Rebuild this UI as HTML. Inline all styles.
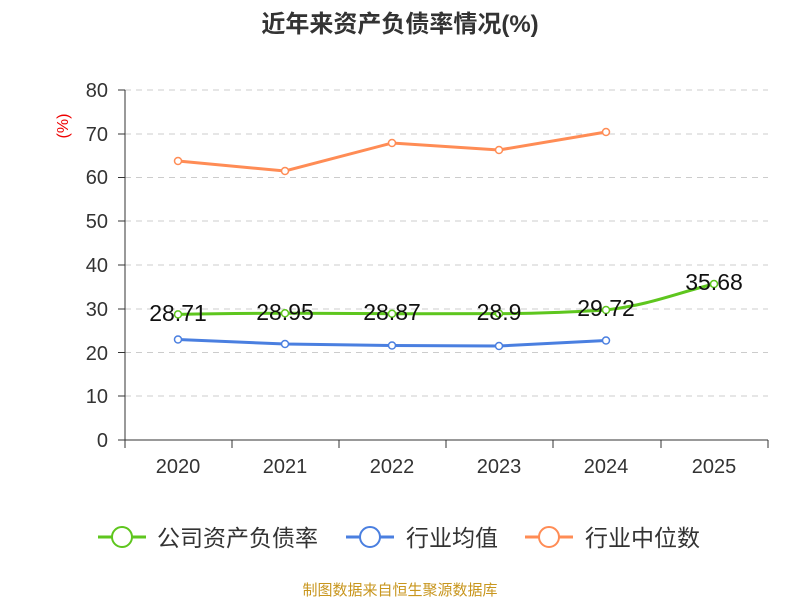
<!DOCTYPE html>
<html><head><meta charset="utf-8"><style>
body{margin:0;background:#fff;}
svg text{font-family:"Liberation Sans","Noto Sans CJK SC",sans-serif;}
</style></head><body>
<svg width="800" height="600" xmlns="http://www.w3.org/2000/svg">
<text x="400" y="32" text-anchor="middle" font-size="24" font-weight="bold" fill="#333">近年来资产负债率情况(%)</text>
<g stroke="#ccc" stroke-dasharray="6,5" stroke-width="1">
<line x1="125" x2="768" y1="90" y2="90"/><line x1="125" x2="768" y1="134" y2="134"/>
<line x1="125" x2="768" y1="177.5" y2="177.5"/><line x1="125" x2="768" y1="221" y2="221"/>
<line x1="125" x2="768" y1="265" y2="265"/><line x1="125" x2="768" y1="309" y2="309"/>
<line x1="125" x2="768" y1="352.5" y2="352.5"/><line x1="125" x2="768" y1="396" y2="396"/>
</g>
<g stroke="#333" stroke-width="1">
<line x1="125" x2="125" y1="90" y2="440"/><line x1="125" x2="768" y1="440" y2="440"/>
<line x1="118" x2="125" y1="90" y2="90"/><line x1="118" x2="125" y1="134" y2="134"/>
<line x1="118" x2="125" y1="177.5" y2="177.5"/><line x1="118" x2="125" y1="221" y2="221"/>
<line x1="118" x2="125" y1="265" y2="265"/><line x1="118" x2="125" y1="309" y2="309"/>
<line x1="118" x2="125" y1="352.5" y2="352.5"/><line x1="118" x2="125" y1="396" y2="396"/>
<line x1="118" x2="125" y1="440" y2="440"/>
<line x1="125" x2="125" y1="440" y2="448"/><line x1="232" x2="232" y1="440" y2="448"/>
<line x1="339" x2="339" y1="440" y2="448"/><line x1="446" x2="446" y1="440" y2="448"/>
<line x1="553" x2="553" y1="440" y2="448"/><line x1="661" x2="661" y1="440" y2="448"/>
<line x1="768" x2="768" y1="440" y2="448"/>
</g>
<g font-size="20" fill="#333" text-anchor="end">
<text x="108" y="97">80</text><text x="108" y="141">70</text><text x="108" y="184">60</text>
<text x="108" y="228">50</text><text x="108" y="272">40</text><text x="108" y="316">30</text>
<text x="108" y="360">20</text><text x="108" y="403">10</text><text x="108" y="447">0</text>
</g>
<text x="68" y="126" font-size="16" fill="#e00" text-anchor="middle" transform="rotate(-90 68 126)">(%)</text>
<g font-size="20" fill="#333" text-anchor="middle">
<text x="178" y="473">2020</text><text x="285" y="473">2021</text><text x="392" y="473">2022</text>
<text x="499" y="473">2023</text><text x="606" y="473">2024</text><text x="714" y="473">2025</text>
</g>
<g fill="none" stroke-width="3">
<polyline stroke="#ff8c55" points="178,161 285,171 392,143 499,150 606,132"/>
<polyline stroke="#4a7fe0" points="178,339.5 285,344 392,345.5 499,346 606,340.5"/>
<path stroke="#5ec61e" d="M178,314.4 C220,313.5 250,313.3 285,313.3 C320,313.3 360,313.7 392,313.7 C430,313.7 470,313.6 499,313.6 C540,313.6 570,312 606,310 C650,305 680,292 714,284"/>
</g>
<g fill="#fff" stroke-width="1.5">
<g stroke="#ff8c55"><circle cx="178" cy="161" r="3.5"/><circle cx="285" cy="171" r="3.5"/><circle cx="392" cy="143" r="3.5"/><circle cx="499" cy="150" r="3.5"/><circle cx="606" cy="132" r="3.5"/></g>
<g stroke="#4a7fe0"><circle cx="178" cy="339.5" r="3.5"/><circle cx="285" cy="344" r="3.5"/><circle cx="392" cy="345.5" r="3.5"/><circle cx="499" cy="346" r="3.5"/><circle cx="606" cy="340.5" r="3.5"/></g>
<g stroke="#5ec61e"><circle cx="178" cy="314.4" r="3.5"/><circle cx="285" cy="313.3" r="3.5"/><circle cx="392" cy="313.7" r="3.5"/><circle cx="499" cy="313.6" r="3.5"/><circle cx="606" cy="310" r="3.5"/><circle cx="714" cy="284" r="3.5"/></g>
</g>
<g font-size="23" fill="#111" text-anchor="middle">
<text x="178" y="321">28.71</text><text x="285" y="320">28.95</text><text x="392" y="320">28.87</text>
<text x="499" y="320">28.9</text><text x="606" y="316">29.72</text><text x="714" y="290">35.68</text>
</g>
<g font-size="23" fill="#333">
<line x1="98" x2="146" y1="537" y2="537" stroke="#5ec61e" stroke-width="3"/>
<circle cx="122" cy="537" r="10" fill="#fff" stroke="#5ec61e" stroke-width="2"/>
<text x="157" y="546">公司资产负债率</text>
<line x1="346" x2="394" y1="537" y2="537" stroke="#4a7fe0" stroke-width="3"/>
<circle cx="370" cy="537" r="10" fill="#fff" stroke="#4a7fe0" stroke-width="2"/>
<text x="406" y="546">行业均值</text>
<line x1="525" x2="573" y1="537" y2="537" stroke="#ff8c55" stroke-width="3"/>
<circle cx="549" cy="537" r="10" fill="#fff" stroke="#ff8c55" stroke-width="2"/>
<text x="585" y="546">行业中位数</text>
</g>
<text x="400" y="595" text-anchor="middle" font-size="15" fill="#c8961e">制图数据来自恒生聚源数据库</text>
</svg>
</body></html>
